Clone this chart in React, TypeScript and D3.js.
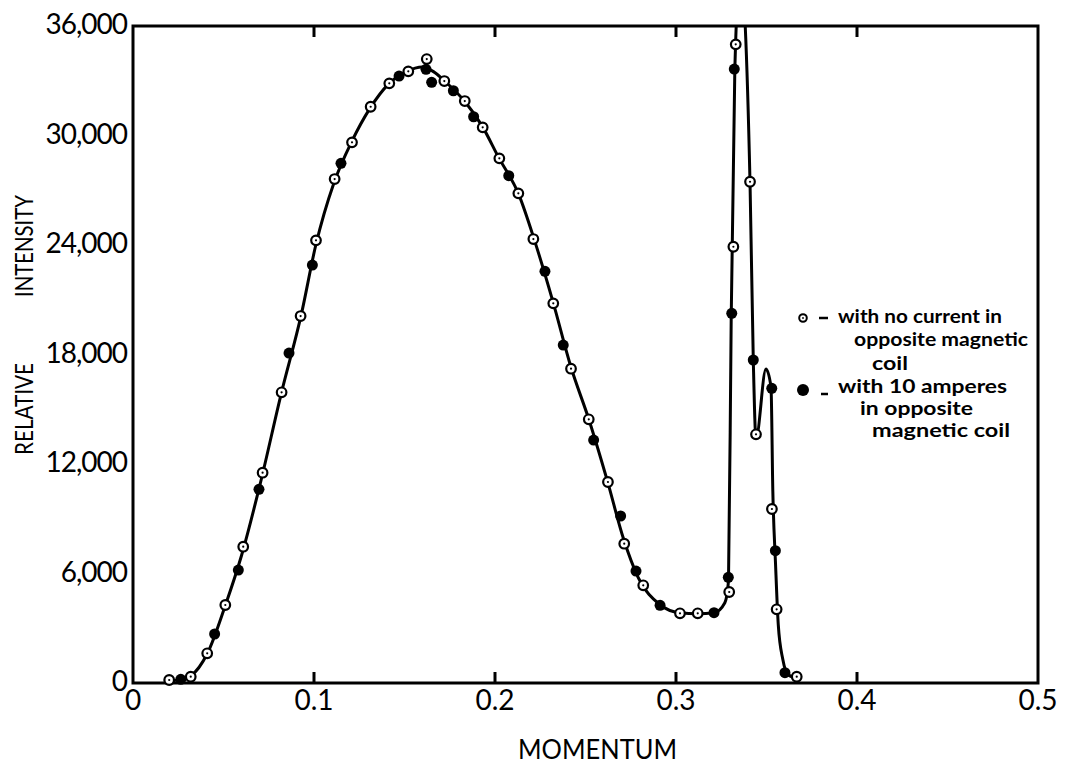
import * as d3 from 'd3';
import { useEffect, useRef } from 'react';

// open circles: no current in opposite magnetic coil
const openX = [0.020, 0.0319, 0.041, 0.051, 0.0609, 0.0716, 0.0821, 0.0926, 0.1011, 0.1114, 0.121, 0.1313, 0.1416, 0.1521, 0.1623, 0.172, 0.1833, 0.1932, 0.2024, 0.2129, 0.2212, 0.2322, 0.242, 0.2518, 0.2624, 0.2714, 0.2819, 0.3022, 0.312, 0.3294, 0.3317, 0.333, 0.3409, 0.3442, 0.353, 0.3556, 0.3667];
const openY = [164, 345, 1627, 4274, 7468, 11523, 15928, 20108, 24256, 27614, 29625, 31576, 32857, 33514, 34189, 32984, 31888, 30446, 28748, 26830, 24327, 20804, 17221, 14448, 11013, 7632, 5353, 3819, 3819, 4986, 23905, 34994, 27467, 13627, 9533, 4038, 345];

// filled circles: 10 amperes in opposite magnetic coil
const filledX = [0.0264, 0.0451, 0.0582, 0.0696, 0.0862, 0.0991, 0.1149, 0.147, 0.1619, 0.165, 0.177, 0.1882, 0.2076, 0.2276, 0.2377, 0.2545, 0.2694, 0.2779, 0.2912, 0.321, 0.3289, 0.3308, 0.3322, 0.3427, 0.3529, 0.3549, 0.3602];
const filledY = [200, 2685, 6191, 10613, 18081, 22902, 28474, 33258, 33624, 32912, 32452, 31028, 27796, 22557, 18519, 13314, 9150, 6136, 4257, 3852, 5791, 20256, 33641, 17698, 16146, 7249, 564];

// the drawn smooth curve
const curveX = [0.020, 0.026, 0.032, 0.041, 0.051, 0.060, 0.070, 0.082, 0.093, 0.101, 0.111, 0.121, 0.131, 0.141, 0.151, 0.160, 0.166, 0.172, 0.183, 0.193, 0.202, 0.213, 0.222, 0.232, 0.242, 0.252, 0.262, 0.271, 0.279, 0.291, 0.302, 0.312, 0.321, 0.327, 0.329, 0.3305, 0.3325, 0.3355, 0.3409, 0.3427, 0.3442, 0.3497, 0.3525, 0.3535, 0.355, 0.3565, 0.359, 0.362, 0.367];
const curveY = [100, 200, 400, 1600, 4250, 7000, 10800, 15900, 20200, 24000, 27400, 29700, 31500, 32800, 33500, 33750, 33500, 33000, 31900, 30500, 28800, 26800, 24200, 20900, 17300, 14400, 11100, 7900, 5800, 4300, 3850, 3800, 3850, 4400, 5600, 20000, 33600, 39000, 27400, 17700, 13400, 17200, 16200, 10500, 6500, 3200, 1300, 450, 250];

const xTicks = [0, 0.1, 0.2, 0.3, 0.4, 0.5];
const xTickLabels = ['0', '0.1', '0.2', '0.3', '0.4', '0.5'];
const yTicks = [0, 6000, 12000, 18000, 24000, 30000, 36000];
const yTickLabels = ['0', '6,000', '12,000', '18,000', '24,000', '30,000', '36,000'];

const legendOpen = ['with no current in', 'opposite magnetic', 'coil'];
const legendFilled = ['with 10 amperes', 'in opposite', 'magnetic coil'];

const font = 'Lato, "Open Sans", sans-serif';

export default function App() {
    const ref = useRef<SVGSVGElement>(null);

    useEffect(() => {
        const width = 1067, height = 767;
        const left = 133, right = 1038, top = 26, bottom = 683;

        const x = d3.scaleLinear().domain([0, 0.5]).range([left, right]);
        const y = d3.scaleLinear().domain([0, 36000]).range([bottom, top]);

        const svg = d3.select(ref.current)
            .attr('width', width)
            .attr('height', height)
            .html('');

        svg.append('rect').attr('width', width).attr('height', height).attr('fill', '#fff');

        svg.append('clipPath').attr('id', 'plotclip')
            .append('rect')
            .attr('x', left).attr('y', top)
            .attr('width', right - left).attr('height', bottom - top);

        // frame
        svg.append('rect')
            .attr('x', left).attr('y', top)
            .attr('width', right - left).attr('height', bottom - top)
            .attr('fill', 'none').attr('stroke', '#000').attr('stroke-width', 3);

        // inward ticks top and bottom
        const inner = xTicks.slice(1, -1);
        svg.append('g').selectAll('line.b').data(inner).enter().append('line')
            .attr('x1', d => x(d)).attr('x2', d => x(d))
            .attr('y1', bottom).attr('y2', bottom - 11)
            .attr('stroke', '#000').attr('stroke-width', 3);
        svg.append('g').selectAll('line.t').data(inner).enter().append('line')
            .attr('x1', d => x(d)).attr('x2', d => x(d))
            .attr('y1', top).attr('y2', top + 11)
            .attr('stroke', '#000').attr('stroke-width', 3);

        // tick labels
        svg.append('g').selectAll('text').data(xTicks).enter().append('text')
            .attr('x', (d) => x(d))
            .attr('y', bottom + 27)
            .attr('text-anchor', 'middle')
            .attr('font-family', font)
            .attr('font-size', 28)
            .text((d, i) => xTickLabels[i]);

        svg.append('g').selectAll('text').data(yTicks).enter().append('text')
            .attr('x', left - 6)
            .attr('y', d => y(d) + 8)
            .attr('text-anchor', 'end')
            .attr('font-family', font)
            .attr('font-size', 28)
            .attr('letter-spacing', -1)
            .text((d, i) => yTickLabels[i]);

        // axis titles
        svg.append('text')
            .attr('x', 518).attr('y', 759)
            .attr('font-family', font).attr('font-size', 27)
            .attr('textLength', 159).attr('lengthAdjust', 'spacingAndGlyphs')
            .text('MOMENTUM');
        svg.append('text')
            .attr('transform', 'translate(33,455) rotate(-90)')
            .attr('font-family', font).attr('font-size', 25)
            .attr('textLength', 92).attr('lengthAdjust', 'spacingAndGlyphs')
            .text('RELATIVE');
        svg.append('text')
            .attr('transform', 'translate(33,297) rotate(-90)')
            .attr('font-family', font).attr('font-size', 25)
            .attr('textLength', 102).attr('lengthAdjust', 'spacingAndGlyphs')
            .text('INTENSITY');

        // curve
        const line = d3.line<number>()
            .x(d => x(curveX[d]))
            .y(d => y(curveY[d]))
            .curve(d3.curveMonotoneX);

        svg.append('path')
            .attr('clip-path', 'url(#plotclip)')
            .attr('d', line(d3.range(curveX.length)))
            .attr('fill', 'none')
            .attr('stroke', '#000')
            .attr('stroke-width', 3);

        // filled markers
        svg.append('g').selectAll('circle').data(filledX).enter().append('circle')
            .attr('cx', d => x(d))
            .attr('cy', (d, i) => y(filledY[i]))
            .attr('r', 5.5)
            .attr('fill', '#000');

        // open markers
        const og = svg.append('g').selectAll('g').data(openX).enter().append('g')
            .attr('transform', (d, i) => 'translate(' + x(d) + ',' + y(openY[i]) + ')');
        og.append('circle').attr('r', 4.8).attr('fill', '#fff').attr('stroke', '#000').attr('stroke-width', 2.2);
        og.append('circle').attr('r', 1.1).attr('fill', '#000');

        // legend
        const lg = svg.append('g').attr('font-family', font).attr('font-weight', 700).attr('font-size', 18);
        lg.append('circle').attr('cx', 803).attr('cy', 318).attr('r', 3.8)
            .attr('fill', '#fff').attr('stroke', '#000').attr('stroke-width', 2);
        lg.append('circle').attr('cx', 803).attr('cy', 318).attr('r', 0.9).attr('fill', '#000');
        lg.append('line').attr('x1', 819).attr('x2', 828).attr('y1', 318).attr('y2', 318)
            .attr('stroke', '#000').attr('stroke-width', 2.5);
        const openOffsets = [838, 854, 872];
        const openYs = [323, 346, 370];
        const openLens = [164, 174, 36];
        legendOpen.forEach((t, i) => {
            lg.append('text').attr('x', openOffsets[i]).attr('y', openYs[i])
                .attr('textLength', openLens[i]).attr('lengthAdjust', 'spacingAndGlyphs')
                .text(t);
        });
        lg.append('circle').attr('cx', 803).attr('cy', 390).attr('r', 6).attr('fill', '#000');
        lg.append('line').attr('x1', 821).attr('x2', 828).attr('y1', 394).attr('y2', 394)
            .attr('stroke', '#000').attr('stroke-width', 2.5);
        const filledOffsets = [838, 860, 872];
        const filledYs = [393, 415, 437];
        const filledLens = [169, 113, 138];
        legendFilled.forEach((t, i) => {
            lg.append('text').attr('x', filledOffsets[i]).attr('y', filledYs[i])
                .attr('textLength', filledLens[i]).attr('lengthAdjust', 'spacingAndGlyphs')
                .text(t);
        });
    }, []);

    return (
        <div style={{ position: 'absolute', left: 0, top: 0 }}>
            <svg ref={ref}></svg>
        </div>
    );
}
